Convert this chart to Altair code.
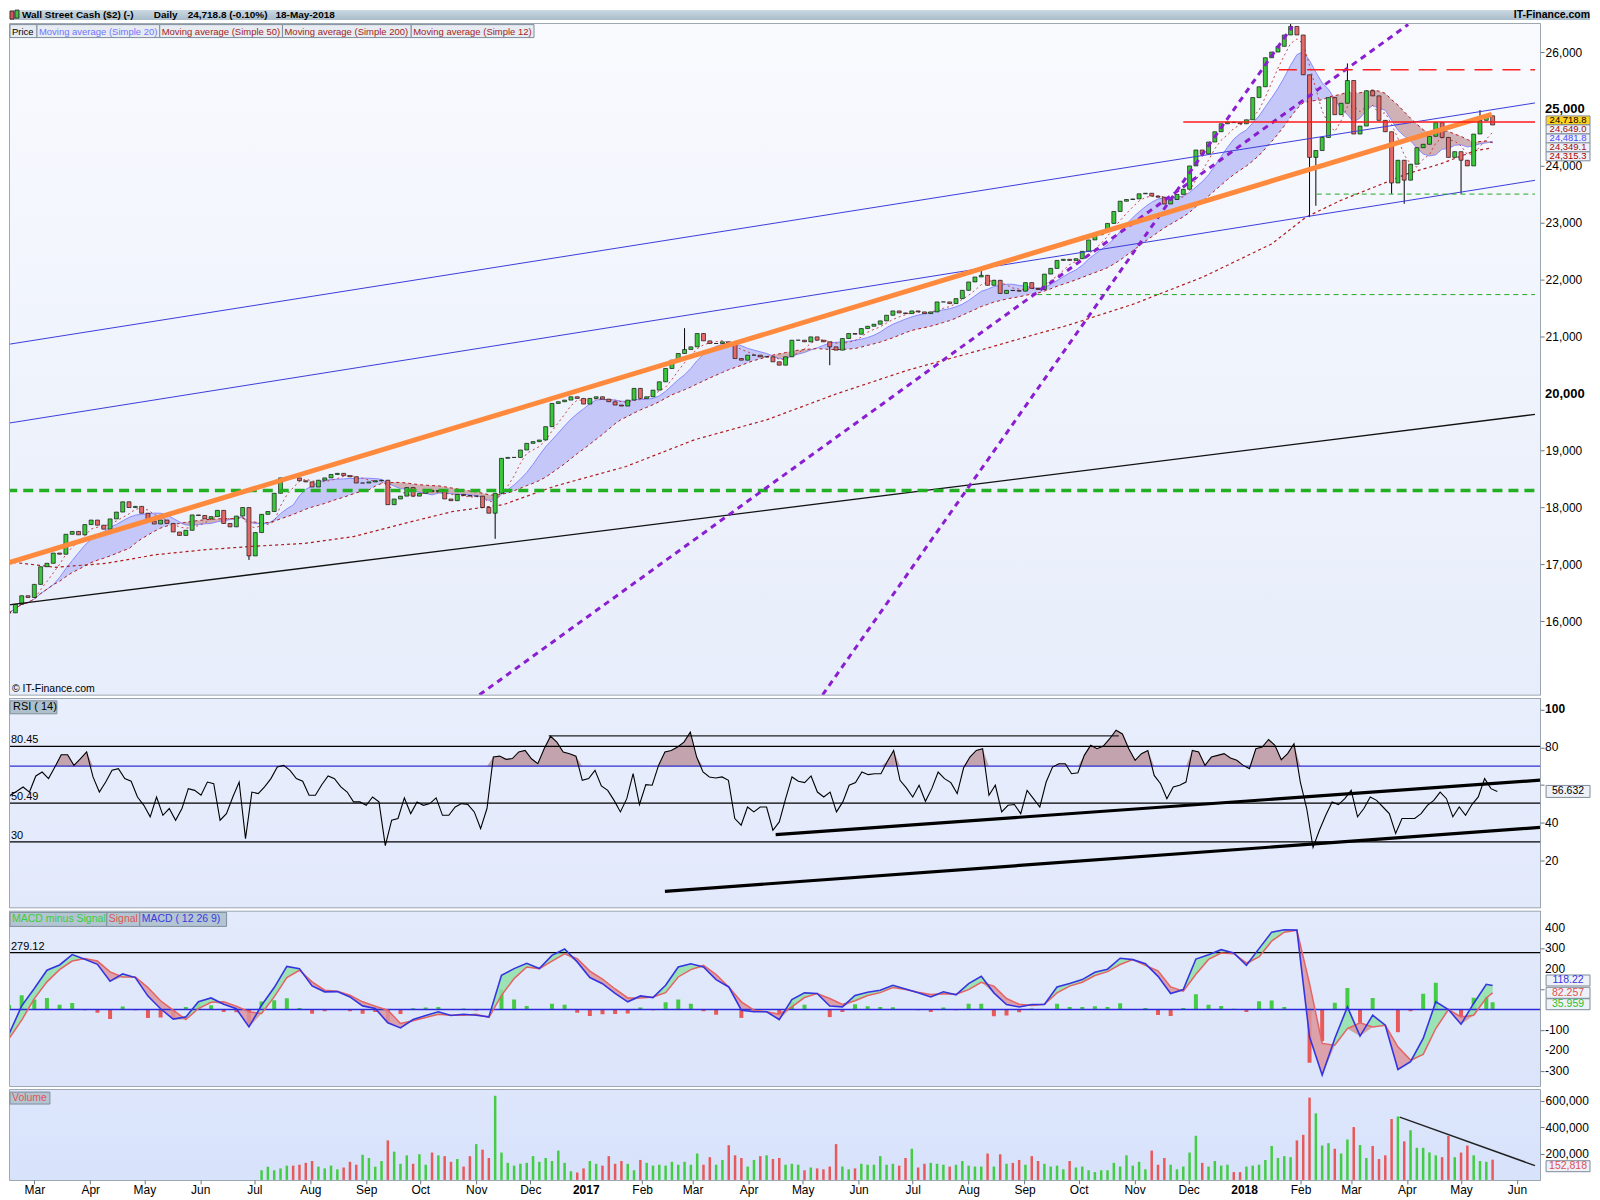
import altair as alt
import pandas as pd

FONT = "Liberation Sans"
W = 1533
H_HEAD, H_MAIN, H_RSI, H_MACD, H_VOL = 10, 672, 209, 175, 90

# ---------------- data (twice-weekly samples) ----------------
START = "2016-02-16"
STEP = "84h"

close = [16150, 16300, 16450, 16420, 16650, 16960, 17020, 17200, 17180, 17530,
         17580, 17520, 17700, 17780, 17690, 17620, 17800, 17920, 18100, 18000,
         18020, 17900, 17760, 17710, 17780, 17720, 17570, 17510, 17600, 17870,
         17860, 17800, 17840, 17950, 17720, 17660, 17850, 18000, 17150, 17560,
         17880, 17930, 18250, 18520, 18530, 18520, 18470, 18450, 18360, 18480,
         18520, 18580, 18600, 18560, 18540, 18430, 18430, 18450, 18470, 18480,
         18050, 18150, 18200, 18350, 18200, 18250, 18300, 18280, 18300, 18150,
         18120, 18230, 18210, 18200, 18200, 18000, 17900, 18250, 18864, 18880,
         18880, 19010, 19127, 19157, 19186, 19420, 19828, 19858, 19887, 19945,
         19916, 19817, 19916, 19945, 19904, 19858, 19800, 19782, 19887, 20092,
         19916, 19945, 20062, 20208, 20442, 20588, 20705, 20775, 20822, 21056,
         20927, 20881, 20881, 20910, 20881, 20617, 20588, 20676, 20676, 20647,
         20647, 20559, 20500, 20647, 20939, 20939, 20910, 20997, 20939, 20910,
         20822, 20764, 20968, 21056, 21044, 21143, 21184, 21219, 21278, 21377,
         21453, 21418, 21406, 21453, 21436, 21406, 21436, 21611, 21611, 21582,
         21669, 21815, 21962, 22049, 22078, 21903, 21991, 21760, 21815, 21810,
         21800, 21950, 21850, 21830, 22100, 22200, 22340, 22360, 22340, 22370,
         22500, 22700, 22790, 22850, 22990, 23200, 23380, 23410, 23420, 23510,
         23520, 23470, 23450, 23330, 23410, 23500, 23590, 24000, 24280, 24210,
         24420, 24600, 24740, 24770, 24760, 24740, 24810, 25200, 25390, 25900,
         26000, 26100, 26300, 26450, 26300, 25600, 24150, 24270, 24500, 25200,
         24900, 25100, 25500, 24560, 24700, 25320, 25230, 24800, 24600, 23700,
         24100, 23750, 24030, 24320, 24380, 24520, 24760, 24500, 24150, 24250,
         24100, 24000, 24560, 24800, 24880, 24719]

low_idx = [38, 77, 130, 206, 207, 219, 221, 230]
low_val = [17080, 17450, 20500, 23100, 23300, 23510, 23335, 23510]
high_idx = [107, 154, 203, 212, 233]
high_val = [21150, 22180, 26600, 25800, 24980]

rsi = [50.2, 54.6, 56.7, 59.0, 56.3, 64.8, 66.9, 63.4, 69.5, 76.0,
       76.0, 70.4, 73.9, 77.5, 64.3, 56.3, 61.6, 67.8, 68.7, 63.4,
       62.0, 53.7, 49.3, 43.2, 53.7, 44.0, 47.6, 41.4, 47.6, 58.1,
       57.2, 54.6, 61.6, 60.7, 41.4, 44.9, 53.7, 61.6, 31.7, 56.3,
       55.5, 59.0, 63.4, 69.5, 70.4, 67.8, 63.4, 62.0, 54.6, 54.6,
       60.2, 64.8, 63.4, 59.0, 56.3, 51.1, 51.1, 49.3, 53.7, 51.1,
       28.0, 41.4, 42.3, 53.2, 44.9, 51.1, 49.3, 50.2, 53.2, 44.0,
       44.0, 48.4, 50.2, 49.7, 45.8, 37.0, 47.6, 74.8, 75.3, 73.6,
       74.0, 77.5, 78.3, 73.9, 71.3, 79.2, 85.8, 82.7, 77.5, 76.6,
       75.3, 62.5, 63.4, 67.8, 59.5, 57.2, 51.9, 45.8, 52.8, 66.0,
       49.7, 60.2, 59.9, 70.4, 77.5, 78.3, 80.1, 82.7, 88.0, 74.8,
       66.9, 64.3, 63.7, 64.3, 62.5, 42.3, 38.8, 48.4, 45.8, 48.4,
       48.4, 36.1, 40.5, 52.8, 64.3, 62.0, 61.3, 64.8, 56.3, 53.7,
       56.3, 45.8, 51.1, 59.9, 61.3, 66.9, 65.5, 66.0, 66.0, 72.5,
       78.3, 62.5, 58.5, 53.7, 59.9, 51.4, 58.1, 66.9, 63.4, 61.3,
       55.5, 69.0, 74.8, 78.3, 79.2, 54.6, 59.9, 45.8, 49.3, 49.7,
       44.9, 57.2, 52.8, 48.4, 61.6, 69.5, 71.3, 71.3, 66.0, 66.5,
       75.7, 81.0, 79.2, 80.6, 84.5, 89.0, 87.0, 79.2, 73.1, 76.6,
       78.3, 65.1, 60.7, 52.8, 59.0, 59.9, 61.6, 78.3, 77.5, 70.4,
       74.8, 75.7, 76.6, 74.3, 73.1, 70.4, 68.7, 79.2, 80.1, 84.1,
       81.0, 73.4, 76.6, 81.9, 61.6, 47.6, 27.0, 36.1, 44.0, 51.1,
       49.7, 52.8, 57.2, 43.2, 47.6, 53.7, 51.9, 48.4, 44.9, 34.4,
       42.3, 42.3, 42.3, 44.9, 49.3, 51.9, 56.3, 52.8, 43.2, 48.4,
       44.0, 49.7, 53.7, 63.4, 58.1, 56.6]

# volume in thousands (no volume before June 2016)
vol_k = [0] * 40 + [
    73, 100, 73, 87, 108, 108, 115, 129, 143, 101,
    87, 108, 80, 94, 137, 115, 190, 166, 100, 143,
    299, 214, 122, 186, 122, 194, 115, 207, 186, 180,
    137, 158, 101, 180, 271, 229, 166, 637, 207, 129,
    108, 122, 129, 180, 137, 166, 143, 222, 129, 66,
    56, 87, 143, 122, 108, 180, 122, 143, 122, 73,
    151, 129, 108, 115, 108, 137, 115, 137, 115, 200,
    115, 172, 115, 151, 263, 186, 166, 101, 151, 180,
    186, 158, 166, 115, 122, 115, 73, 94, 87, 80,
    101, 271, 101, 80, 87, 122, 115, 115, 180, 115,
    122, 108, 166, 236, 94, 122, 129, 122, 115, 101,
    115, 143, 108, 101, 101, 200, 101, 194, 122, 129,
    151, 115, 180, 143, 122, 101, 108, 80, 143, 94,
    101, 73, 59, 73, 73, 129, 101, 186, 108, 137,
    80, 222, 115, 166, 115, 80, 101, 207, 334, 129,
    101, 143, 108, 115, 59, 59, 101, 108, 115, 151,
    257, 166, 180, 172, 299, 341, 623, 504, 260, 278,
    236, 200, 306, 400, 264, 166, 257, 158, 186, 461,
    480, 292, 376, 243, 243, 208, 186, 172, 334, 172,
    207, 260, 186, 143, 137, 153]

# MACD / signal: weekly samples (every second date) plus the last day
macd = [-120, 18, 103, 193, 219, 270, 247, 222, 139, 175,
        157, 66, 4, -47, -36, 38, 57, 26, 4, -85,
        21, 108, 212, 201, 116, 87, 88, 62, 18, 5,
        -65, -90, -49, -29, -11, -29, -23, -28, -36, 168,
        201, 227, 201, 266, 297, 234, 157, 127, 79, 38,
        67, 59, 119, 209, 225, 209, 147, 111, -3, -11,
        -11, -49, 49, 82, 79, 17, 13, 69, 85, 95,
        119, 101, 82, 62, 87, 72, 127, 163, 82, 25,
        13, 25, 25, 111, 128, 147, 183, 198, 252, 245,
        225, 163, 79, 98, 248, 269, 294, 278, 217, 299,
        380, 392, 390, -134, -321, -142, 13, -130, -28, -77,
        -294, -256, -142, 38, 0, -72, 30, 124, 118]
signal = [-142, -52, 54, 136, 196, 238, 250, 238, 185, 160,
          160, 108, 43, -3, -49, 5, 36, 38, 17, -11,
          -19, 62, 157, 193, 136, 95, 90, 70, 38, 17,
          -3, -68, -55, -39, -23, -28, -28, -23, -39, 70,
          152, 209, 201, 238, 274, 250, 189, 150, 101, 57,
          57, 62, 83, 160, 196, 217, 172, 111, 38, -3,
          -11, -23, 13, 59, 79, 54, 25, 43, 69, 83,
          108, 98, 85, 74, 77, 75, 98, 134, 115, 54,
          26, 20, 26, 82, 115, 134, 167, 186, 221, 245,
          217, 190, 111, 90, 173, 246, 277, 274, 229, 258,
          336, 380, 389, 127, -166, -175, -93, -65, -85, -77,
          -183, -248, -220, -93, 0, -36, -28, 57, 82]

ma200_dates = ["2016-02-15", "2016-03-13", "2016-04-10", "2016-05-07", "2016-06-04",
               "2016-07-01", "2016-07-29", "2016-08-25", "2016-09-22", "2016-10-19",
               "2016-11-16", "2016-12-14", "2017-01-23", "2017-03-02", "2017-04-11",
               "2017-05-20", "2017-06-28", "2017-08-07", "2017-09-09", "2017-09-25",
               "2017-11-01", "2017-12-09", "2018-01-16", "2018-02-04", "2018-02-23",
               "2018-03-14", "2018-04-01", "2018-04-20", "2018-05-09", "2018-05-18"]
ma200_vals = [17050, 16950, 17020, 17170, 17260, 17320, 17370, 17490, 17720, 17930,
              18050, 18370, 18720, 19190, 19540, 20000, 20410, 20760, 21060, 21200,
              21580, 22050, 22630, 23100, 23390, 23630, 23860, 24040, 24270, 24315]

# hand-drawn lines: (start date, start value, end date, end value)
blue_lines = [("2016-02-15", 20863, "2018-06-11", 25106),
              ("2016-02-15", 19478, "2018-06-11", 23747)]
orange_line = ("2016-02-15", 17024, "2018-05-18", 24904)
black_line = ("2016-02-15", 16287, "2018-06-11", 19636)
purple_lines = [("2016-11-02T19:00", 14710, "2018-04-01T17:00", 26484),
                ("2017-05-12T01:00", 14710, "2018-01-27T10:00", 26449)]
green_thick = ("2016-02-15", 18300, "2018-06-11", 18300)
green_thin = [("2017-09-08", 21740, "2018-06-11", 21740),
              ("2018-02-10", 23505, "2018-06-11", 23505)]
red_solid = ("2017-11-28", 24770, "2018-06-11", 24770)
red_dash = ("2018-01-20", 25690, "2018-06-11", 25690)
rsi_thick = [("2017-04-16", 33.8, "2018-06-11", 62.6),
             ("2017-02-14", 3.8, "2018-06-11", 37.6)]
rsi_thin = ("2016-12-12", 86.0, "2017-10-22", 86.0)
vol_line = ("2018-03-28", 475000, "2018-06-11", 108000)

macd_level = 279.12
month_ticks = pd.date_range("2016-03-01", "2018-06-01", freq="MS")

# ---------------- frames ----------------
n = min(len(close), len(rsi), len(vol_k))
dates = pd.date_range(START, periods=n, freq=STEP)
px = pd.DataFrame({"date": dates, "close": close[:n], "rsi": rsi[:n],
                   "vol": [v * 1000 for v in vol_k[:n]]})
px["open"] = px["close"].shift(1).fillna(px["close"].iloc[0])
px["high"] = px[["open", "close"]].max(axis=1)
px["low"] = px[["open", "close"]].min(axis=1)
for i, v in zip(low_idx, low_val):
    px.loc[i, "low"] = min(px.loc[i, "low"], v)
for i, v in zip(high_idx, high_val):
    px.loc[i, "high"] = max(px.loc[i, "high"], v)

mdates = list(dates[::2]) + [dates[-1]]
m = min(len(mdates), len(macd), len(signal))
md = pd.DataFrame({"date": mdates[:m], "macd": macd[:m], "signal": signal[:m]})
md["hist"] = md["macd"] - md["signal"]
md["lo"] = md[["macd", "signal"]].min(axis=1)

ma200 = pd.DataFrame({"date": pd.to_datetime(ma200_dates), "v": ma200_vals})
ONE = pd.DataFrame({"k": [0]})

# ---------------- scales ----------------
XSC = alt.Scale(domain=[alt.DateTime(year=2016, month=2, date=19, hours=6, minutes=43),
                        alt.DateTime(year=2018, month=6, date=11, hours=1, minutes=26)])
YM = alt.Scale(domain=[14710, 26491], nice=False, zero=False)
YR = alt.Scale(domain=[-4.7, 105.6], nice=False, zero=False)
YD = alt.Scale(domain=[-375.6, 481.7], nice=False, zero=False)
YV = alt.Scale(domain=[0, 680000], nice=False, zero=False)
PPU = {"m": H_MAIN / (26491 - 14710), "r": H_RSI / 110.3, "d": H_MACD / 857.3, "v": H_VOL / 680000}
U = alt.Undefined


def X(axis=None):
    return alt.X("date:T", scale=XSC, axis=axis, title=None)


def Y(field, scale, axis=U):
    return alt.Y(field, scale=scale, axis=axis, title=None)


def seg(s, scale, xaxis=None, **mk):
    d = pd.DataFrame({"date": pd.to_datetime([s[0], s[2]]), "v": [s[1], s[3]]})
    return alt.Chart(d).mark_line(clip=True, **mk).encode(x=X(xaxis), y=Y("v:Q", scale))


def hrule(value, scale, **mk):
    d = pd.DataFrame({"v": [value]})
    return alt.Chart(d).mark_rule(**mk).encode(y=Y("v:Q", scale))


def bg(h, c0, c1, x1=W):
    g = alt.Gradient(gradient="linear", x1=0, x2=0, y1=0, y2=1,
                     stops=[alt.GradientStop(color=c0, offset=0), alt.GradientStop(color=c1, offset=1)])
    return alt.Chart(ONE).mark_rect(fill=g).encode(
        x=alt.value(0), x2=alt.value(x1), y=alt.value(0), y2=alt.value(h))


def box(x0, x1, y0, y1, fill, stroke="#7f8e9c"):
    return alt.Chart(ONE).mark_rect(fill=fill, stroke=stroke, strokeWidth=1).encode(
        x=alt.value(x0), x2=alt.value(x1), y=alt.value(y0), y2=alt.value(y1))


def label(x, y, text, color="black", size=10, weight="normal", align="left"):
    return alt.Chart(ONE).mark_text(text=text, color=color, fontSize=size, fontWeight=weight,
                                    align=align, baseline="middle", font=FONT).encode(
        x=alt.value(x), y=alt.value(y))


def level_text(value, scale, text):
    d = pd.DataFrame({"v": [value]})
    return alt.Chart(d).mark_text(text=text, align="left", baseline="middle", dy=-6,
                                  fontSize=11, font=FONT, color="black").encode(
        x=alt.value(1), y=Y("v:Q", scale))


def ylabels(values, texts, scale, size=12, weight="normal"):
    d = pd.DataFrame({"v": values, "t": texts})
    return alt.Chart(d).mark_text(align="left", baseline="middle", fontSize=size, fontWeight=weight,
                                  font=FONT, color="black").encode(
        x=alt.value(W + 5), y=Y("v:Q", scale), text="t:N")


def tag(text, value, scale, ppu, txt, fill="#eef2f8", dy=0, hh=5.0, size=9.5):
    c = value - dy / ppu
    h = hh / ppu
    d = pd.DataFrame({"c": [c], "t": [c + h], "b": [c - h]})
    r = alt.Chart(d).mark_rect(fill=fill, stroke="#7d8b99", strokeWidth=1).encode(
        x=alt.value(W + 6), x2=alt.value(W + 50), y=Y("t:Q", scale), y2="b:Q")
    t = alt.Chart(d).mark_text(text=text, font=FONT, fontSize=size, color=txt,
                               align="center", baseline="middle").encode(
        x=alt.value(W + 28), y=Y("c:Q", scale))
    return [r, t]


COMMA = "format(datum.value, ',')"

# ---------------- header ----------------
HX = alt.Scale(domain=[0, W], nice=False, zero=False)
head_txt = pd.DataFrame({
    "x": [12, 144, 178, 266],
    "t": ["Wall Street Cash ($2) (-)", "Daily", "24,718.8 (-0.10%)", "18-May-2018"]})
header = alt.layer(
    bg(H_HEAD, "#cad9e3", "#a9bcc9", x1=W + 50),
    box(0, 4, 1, 9, "#e05050", stroke="#333"),
    box(5, 9, 0, 8, "#40c040", stroke="#333"),
    alt.Chart(head_txt).mark_text(align="left", baseline="middle", fontSize=10, fontWeight="bold",
                                  font=FONT, color="black").encode(
        x=alt.X("x:Q", scale=HX, axis=None, title=None), y=alt.value(5), text="t:N"),
    label(W + 50, 5, "IT-Finance.com", size=10.5, weight="bold", align="right"),
).properties(width=W, height=H_HEAD, view=alt.ViewBackground(strokeWidth=0))

# ---------------- main price panel ----------------
ma = (alt.Chart(px)
      .transform_window(ma12="mean(close)", frame=[-4, 0], sort=[alt.SortField("date")])
      .transform_window(ma20="mean(close)", frame=[-7, 0], sort=[alt.SortField("date")])
      .transform_window(ma50="mean(close)", frame=[-19, 0], sort=[alt.SortField("date")])
      .transform_calculate(lo="min(datum.ma20, datum.ma50)"))

main_axis = alt.Axis(orient="right", values=[v for v in range(16000, 26001, 1000) if v % 5000],
                     labelExpr=COMMA, labelOverlap=False)

main_layers = [
    bg(H_MAIN, "#f8fafe", "#e7edfa"),
    ma.mark_area(color="#c4c7f7", clip=True).encode(x=X(), y=Y("ma20:Q", YM), y2="lo:Q"),
    ma.mark_area(color="#c9a4a8", opacity=0.85, clip=True).encode(x=X(), y=Y("ma50:Q", YM), y2="lo:Q"),
    ma.mark_line(color="#8a8aff", strokeWidth=1, clip=True).encode(x=X(), y=Y("ma20:Q", YM)),
    ma.mark_line(color="#b01c1c", strokeWidth=1, strokeDash=[3, 3], clip=True).encode(x=X(), y=Y("ma50:Q", YM)),
    ma.mark_line(color="#c83030", strokeWidth=0.9, strokeDash=[2, 3], clip=True).encode(x=X(), y=Y("ma12:Q", YM)),
    alt.Chart(ma200).mark_line(color="#b01c1c", strokeWidth=1.2, strokeDash=[3, 3], clip=True).encode(
        x=X(), y=Y("v:Q", YM)),
    alt.Chart(px).mark_rule(color="black", strokeWidth=1, clip=True).encode(
        x=X(), y=Y("low:Q", YM, main_axis), y2="high:Q"),
    alt.Chart(px).mark_bar(width=4, stroke="black", strokeWidth=0.6, clip=True).encode(
        x=X(), y=Y("open:Q", YM), y2="close:Q",
        color=alt.condition("datum.close >= datum.open", alt.value("#3cc63c"), alt.value("#e46a6a"))),
    ylabels([20000, 25000], ["20,000", "25,000"], YM, size=13, weight="bold"),
]
for s in blue_lines:
    main_layers.append(seg(s, YM, color="#3c3cdc", strokeWidth=1))
main_layers += [
    seg(black_line, YM, color="#111111", strokeWidth=1.3),
    seg(green_thick, YM, color="#22b022", strokeWidth=3.5, strokeDash=[10, 6]),
]
for s in green_thin:
    main_layers.append(seg(s, YM, color="#22aa22", strokeWidth=1, strokeDash=[5, 4]))
for s in purple_lines:
    main_layers.append(seg(s, YM, color="#8a1ed0", strokeWidth=3, strokeDash=[6, 5]))
main_layers += [
    seg(orange_line, YM, color="#ff8a3d", strokeWidth=5),
    seg(red_solid, YM, color="#ff1a1a", strokeWidth=1.5),
    seg(red_dash, YM, color="#ff2020", strokeWidth=1.5, strokeDash=[18, 10]),
]
for t in [("24,718.8", 24718.8, "black", "#ffd21f", -4.6),
          ("24,649.0", 24649.0, "#a01010", "#eef2f8", 0.4),
          ("24,481.8", 24481.8, "#4848ff", "#eef2f8", 0.0),
          ("24,349.1", 24349.1, "#a01010", "#eef2f8", 1.3),
          ("24,315.3", 24315.3, "#b00000", "#eef2f8", 8.4)]:
    main_layers += tag(t[0], t[1], YM, PPU["m"], t[2], fill=t[3], dy=t[4], hh=4.5)

legend_labels = ["Price", "Moving average (Simple 20)", "Moving average (Simple 50)",
                 "Moving average (Simple 200)", "Moving average (Simple 12)"]
legend_colors = ["black", "#7474ff", "#a51d1d", "#a51d1d", "#a51d1d"]
edges = [0, 27, 150, 273, 402, 525]
for k, (txt, col) in enumerate(zip(legend_labels, legend_colors)):
    main_layers.append(box(edges[k], edges[k + 1], 0.5, 13.5, "#e6ecf2"))
    main_layers.append(label(edges[k] + 2, 7.5, txt, color=col, size=9.5))
main_layers.append(label(2, H_MAIN - 6, "© IT-Finance.com", size=10.5))

main = alt.layer(*main_layers).properties(width=W, height=H_MAIN)

# ---------------- RSI panel ----------------
rsi_base = alt.Chart(px).transform_calculate(top="max(datum.rsi, 70)", base="70")
rsi_layers = [
    bg(H_RSI, "#e8eefc", "#e2e9fb"),
    rsi_base.mark_area(color="#c3a3ad", clip=True).encode(x=X(), y=Y("top:Q", YR), y2="base:Q"),
    hrule(80.45, YR, color="black", strokeWidth=1.2),
    hrule(70, YR, color="#3030d0", strokeWidth=1.2),
    hrule(50.49, YR, color="black", strokeWidth=1.2),
    hrule(30, YR, color="black", strokeWidth=1.2),
    seg(rsi_thin, YR, color="#222222", strokeWidth=1.3),
]
for s in rsi_thick:
    rsi_layers.append(seg(s, YR, color="black", strokeWidth=3.2))
rsi_layers += [
    alt.Chart(px).mark_line(color="black", strokeWidth=1.1, clip=True).encode(
        x=X(), y=Y("rsi:Q", YR, alt.Axis(orient="right", values=[20, 40, 60, 80, 100], labels=False))),
    ylabels([20, 40, 80], ["20", "40", "80"], YR),
    ylabels([100], ["100"], YR, weight="bold"),
    level_text(80.45, YR, "80.45"),
    level_text(50.49, YR, "50.49"),
    level_text(30, YR, "30"),
    box(0, 47, 2, 15, "#adc0cc"),
    label(3, 8.5, "RSI ( 14)", size=11),
]
rsi_layers += tag("56.632", 56.632, YR, PPU["r"], "black", hh=6, size=10.5)
rsi_panel = alt.layer(*rsi_layers).properties(width=W, height=H_RSI)

# ---------------- MACD panel ----------------
mc = alt.Chart(md).transform_calculate(zero="0")
macd_layers = [
    bg(H_MACD, "#e3eafb", "#dbe4fa"),
    mc.mark_bar(width=4, clip=True).encode(
        x=X(), y=Y("hist:Q", YD), y2="zero:Q",
        color=alt.condition("datum.hist >= 0", alt.value("#44cc44"), alt.value("#e85a5a"))),
    mc.mark_area(color="#8fe0a8", opacity=0.85, clip=True).encode(x=X(), y=Y("macd:Q", YD), y2="lo:Q"),
    mc.mark_area(color="#dc959c", opacity=0.85, clip=True).encode(x=X(), y=Y("signal:Q", YD), y2="lo:Q"),
    hrule(macd_level, YD, color="black", strokeWidth=1.2),
    hrule(0, YD, color="#2a2ad8", strokeWidth=1.5),
    mc.mark_line(color="#e46464", strokeWidth=1.5, clip=True).encode(x=X(), y=Y("signal:Q", YD)),
    mc.mark_line(color="#3434e0", strokeWidth=1.6, clip=True).encode(
        x=X(), y=Y("macd:Q", YD, alt.Axis(orient="right", values=[-300, -200, -100, 0, 100, 200, 300, 400],
                                          labels=False))),
    ylabels([-300, -200, -100, 200, 300, 400], ["-300", "-200", "-100", "200", "300", "400"], YD),
    level_text(macd_level, YD, "279.12"),
    box(0, 97, 1, 15, "#b3c5d2"),
    label(2, 8, "MACD minus Signal", color="#3ccc3c", size=10.5),
    box(97, 130, 1, 15, "#b3c5d2"),
    label(99, 8, "Signal", color="#e05555", size=10.5),
    box(130, 217, 1, 15, "#b3c5d2"),
    label(132, 8, "MACD ( 12 26 9)", color="#3a3ae0", size=10.5),
]
macd_layers += tag("118.22", 118.22, YD, PPU["d"], "#3535e0", dy=-5, hh=5.5, size=10.5)
macd_layers += tag("82.257", 82.257, YD, PPU["d"], "#e05050", hh=5.5, size=10.5)
macd_layers += tag("35.959", 35.959, YD, PPU["d"], "#30c030", dy=2, hh=5.5, size=10.5)
macd_panel = alt.layer(*macd_layers).properties(width=W, height=H_MACD)

# ---------------- volume panel ----------------
tick_vals = [alt.DateTime(year=int(d.year), month=int(d.month), date=1)
             for d in month_ticks if d.month != 1]
x_axis = alt.Axis(orient="bottom", values=tick_vals, format="%b",
                  labelOverlap=False, labelFlush=False, labelPadding=1, tickSize=4)
years = pd.DataFrame({"date": pd.to_datetime(["2017-01-01", "2018-01-01"]), "t": ["2017", "2018"]})
vol_layers = [
    bg(H_VOL, "#dde6fb", "#d7e2fb"),
    alt.Chart(px).mark_bar(width=2.5, clip=True).encode(
        x=X(x_axis),
        y=Y("vol:Q", YV, alt.Axis(orient="right", values=[200000, 400000, 600000], labelExpr=COMMA,
                                  labelOverlap=False)),
        color=alt.condition("datum.close >= datum.open", alt.value("#44cc44"), alt.value("#e85a5a"))),
    seg(vol_line, YV, xaxis=U, color="#222222", strokeWidth=1.5),
    alt.Chart(years).mark_text(fontSize=12, fontWeight="bold", font=FONT, color="black",
                               baseline="top").encode(x=X(U), y=alt.value(H_VOL + 5), text="t:N"),
    box(0, 40, 2, 14, "#b3c5d2"),
    label(2, 8, "Volume", color="#e05555", size=10.5),
]
vol_layers += tag("152,818", 152818, YV, PPU["v"], "#e05050", dy=6.5, hh=5.5, size=10.5)
vol_panel = alt.layer(*vol_layers).properties(width=W, height=H_VOL)

chart = (alt.vconcat(header, main, rsi_panel, macd_panel, vol_panel, spacing=2)
         .properties(padding=0, background="white")
         .configure(font=FONT)
         .configure_view(stroke="#7f8c98", strokeWidth=1.5)
         .configure_axis(labelFont=FONT, labelFontSize=12, labelColor="black", tickColor="#6a7784",
                         tickSize=4, labelPadding=1, domain=False, grid=False, labelOverlap=False))

chart.save("out.html", embed_options={"renderer": "svg", "actions": False})
